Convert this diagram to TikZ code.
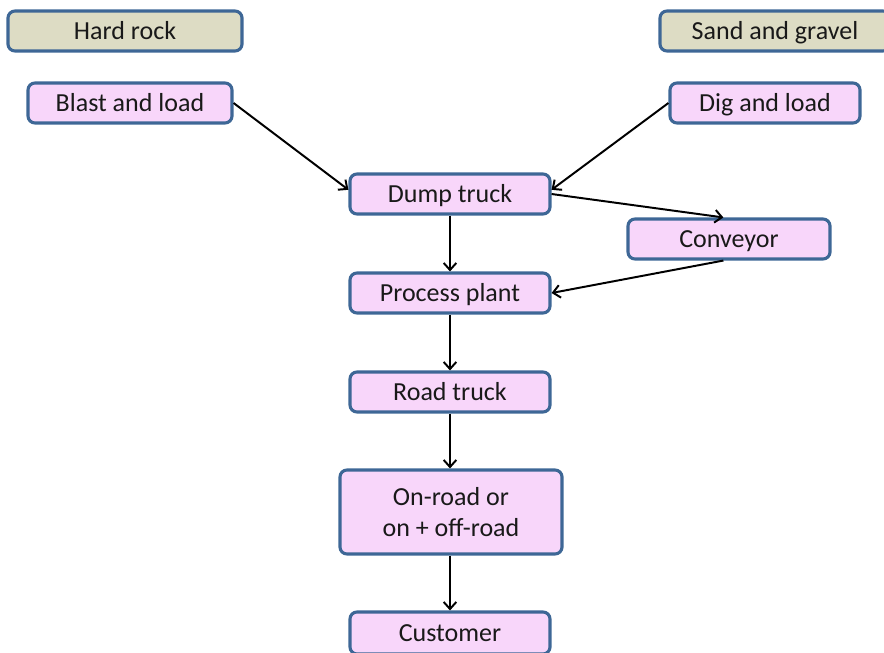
\documentclass[tikz,border=0pt]{standalone}
\usepackage{fontspec}
\setmainfont{Carlito}
\usepackage{xcolor}
\usetikzlibrary{arrows.meta}
\usetikzlibrary{calc}

\definecolor{boxpink}{HTML}{F8D6FA}
\definecolor{boxtan}{HTML}{DDDCC4}
\definecolor{boxblue}{HTML}{3E6796}

\begin{document}
\begin{tikzpicture}[x=0.025cm, y=-0.025cm,
    stage/.style={rectangle, rounded corners=5pt, draw=boxblue, line width=2.2pt,
      fill=boxpink, minimum width=5cm, minimum height=1cm, align=center,
      text height=14.5pt, text depth=2pt,
      font=\fontsize{18.5}{22}\selectfont, text=black!90},
    source/.style={stage, fill=boxtan},
    flow/.style={-{Straight Barb[length=5pt,width=9pt]}, line width=1.4pt}]

    \useasboundingbox (0,0) rectangle (884,653);

    % Define nodes
    \node[source, minimum width=5.85cm] (hard) at (125,31) {Hard rock};
    \node[source, minimum width=5.75cm] (sand) at (775,31) {Sand and gravel};
    \node[stage, minimum width=5.1cm] (blast) at (130,103) {Blast and load};
    \node[stage, minimum width=4.75cm] (dig) at (765,103) {Dig and load};
    \node[stage] (dump) at (450,194) {Dump truck};
    \node[stage, minimum width=5.05cm] (conv) at (729,239) {Conveyor};
    \node[stage] (plant) at (450,293) {Process plant};
    \node[stage] (road) at (450,392) {Road truck};
    \node[stage, text height={}, text depth={}, minimum width=5.55cm, minimum height=2.1cm] (onroad) at (451,512) {On-road or\\on + off-road};
    \node[stage, minimum height=1.05cm] (cust) at (450,633) {Customer};

    % Connect the nodes
    \draw[flow] (blast.east) -- ([yshift=3pt]dump.west);
    \draw[flow] (dig.west) -- ([yshift=3pt]dump.east);
    \draw[flow] (dump.east) -- ([xshift=-4pt]conv.north);
    \draw[flow] ([xshift=-4pt]conv.south) -- (plant.east);
    \draw[flow] (dump) -- (plant);
    \draw[flow] (plant) -- (road);
    \draw[flow] (road.south) -- (road.south |- onroad.north);
    \draw[flow] (onroad.south -| cust.north) -- (cust.north);

\end{tikzpicture}
\end{document}
